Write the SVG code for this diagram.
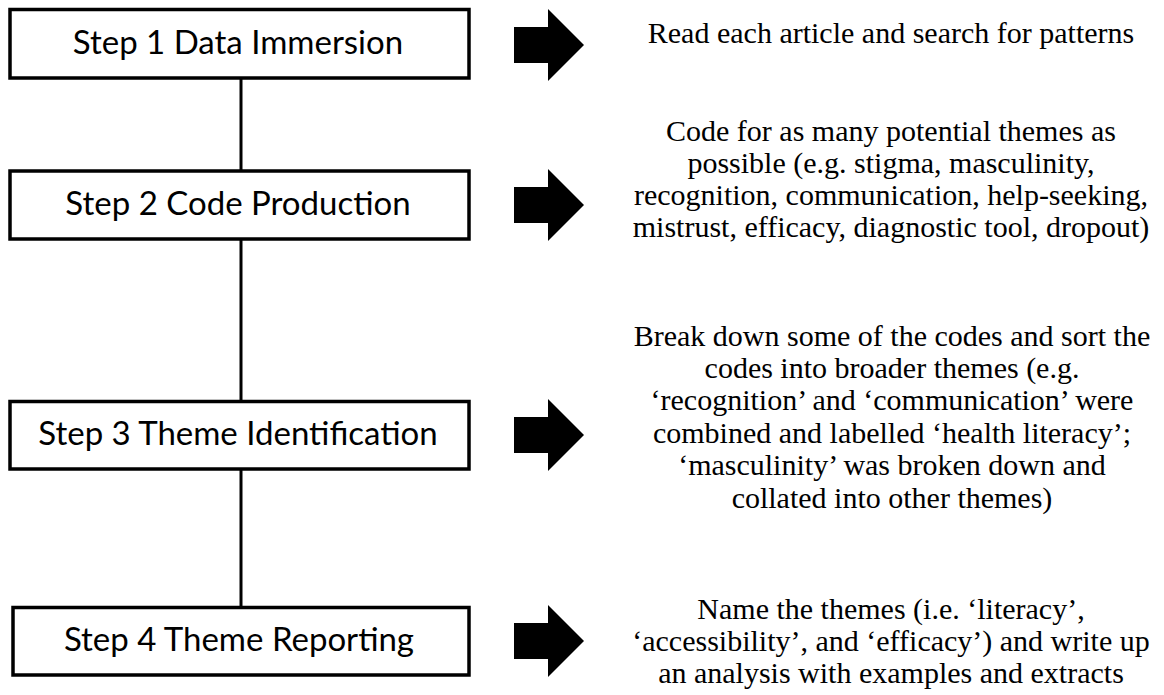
<svg xmlns="http://www.w3.org/2000/svg" xmlns:xlink="http://www.w3.org/1999/xlink" width="1164" height="695" viewBox="0 0 1164 695">
  <style>
    .box { fill: #ffffff; stroke: #000000; stroke-width: 3.5; }
    .step { font-family: Lato, "Open Sans", "Liberation Sans", sans-serif; font-size: 33px; fill: #000000; text-anchor: middle; }
    .desc { font-family: "Liberation Serif", "Times New Roman", serif; font-size: 30px; fill: #000000; text-anchor: middle; }
    .conn { stroke: #000000; stroke-width: 3; fill: none; }
    .arrow { fill: #000000; stroke: none; }
  </style>
  <defs>
    <polygon id="blockArrow" points="514,-18 548,-18 548,-36 584,0 548,36 548,18 514,18"/>
  </defs>
  <rect width="1164" height="695" fill="#ffffff"/>

  <g id="connectors">
    <line class="conn" x1="241" y1="78" x2="241" y2="171"/>
    <line class="conn" x1="241" y1="239" x2="241" y2="401.5"/>
    <line class="conn" x1="241" y1="469" x2="241" y2="607.5"/>
    <use class="arrow" xlink:href="#blockArrow" transform="translate(0,45)"/>
    <use class="arrow" xlink:href="#blockArrow" transform="translate(0,205)"/>
    <use class="arrow" xlink:href="#blockArrow" transform="translate(0,435)"/>
    <use class="arrow" xlink:href="#blockArrow" transform="translate(0,641)"/>
  </g>

  <g id="step1">
    <rect class="box" x="10" y="9.5" width="459" height="68.5"/>
    <text class="step" x="238" y="54">Step 1 Data Immersion</text>
  </g>
  <g id="step2">
    <rect class="box" x="10" y="171" width="459" height="68"/>
    <text class="step" x="238" y="215">Step 2 Code Production</text>
  </g>
  <g id="step3">
    <rect class="box" x="10" y="401.5" width="459" height="67.5"/>
    <text class="step" x="238" y="445">Step 3 Theme Identification</text>
  </g>
  <g id="step4">
    <rect class="box" x="13" y="607.5" width="456" height="67.5"/>
    <text class="step" x="239" y="651">Step 4 Theme Reporting</text>
  </g>

  <g id="desc1">
    <text class="desc" x="891" y="43">Read each article and search for patterns</text>
  </g>
  <g id="desc2">
    <text class="desc" x="891" y="141">Code for as many potential themes as</text>
    <text class="desc" x="891" y="173">possible (e.g. stigma, masculinity,</text>
    <text class="desc" x="891" y="205">recognition, communication, help-seeking,</text>
    <text class="desc" x="891" y="237">mistrust, efficacy, diagnostic tool, dropout)</text>
  </g>
  <g id="desc3">
    <text class="desc" x="892" y="346">Break down some of the codes and sort the</text>
    <text class="desc" x="892" y="378">codes into broader themes (e.g.</text>
    <text class="desc" x="892" y="410">‘recognition’ and ‘communication’ were</text>
    <text class="desc" x="892" y="443">combined and labelled ‘health literacy’;</text>
    <text class="desc" x="892" y="475">‘masculinity’ was broken down and</text>
    <text class="desc" x="892" y="508">collated into other themes)</text>
  </g>
  <g id="desc4">
    <text class="desc" x="891" y="619">Name the themes (i.e. ‘literacy’,</text>
    <text class="desc" x="891" y="651">‘accessibility’, and ‘efficacy’) and write up</text>
    <text class="desc" x="891" y="683">an analysis with examples and extracts</text>
  </g>
</svg>
